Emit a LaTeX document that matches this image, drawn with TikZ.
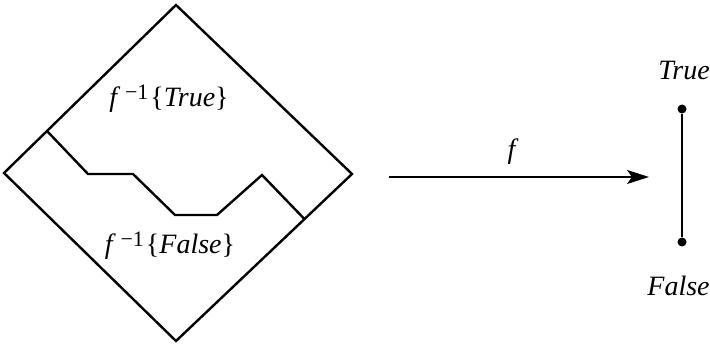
\documentclass[tikz,border=0pt]{standalone}
\usepackage{fontspec}
\newfontfamily\tmsfont{Liberation Serif}
\usetikzlibrary{arrows.meta,calc}
\newcommand{\preim}[1]{\textit{f}\,\raisebox{0.6ex}{\fontsize{11}{12}\selectfont\textup{\char"2212 1}}\kern1pt\{\textit{#1}\}}
\tikzset{
  edge/.style ={line width=1.2pt,line join=miter},
  ar/.style   ={-{Stealth[length=11pt,width=7pt,inset=2.5pt]},line width=0.8pt},
  lbl/.style  ={font=\tmsfont\fontsize{14}{16}\selectfont,inner sep=0pt},
  pt/.style   ={circle,fill,inner sep=0pt,minimum size=4.5pt},
}
\begin{document}
\begin{tikzpicture}[x=0.5pt,y=-0.5pt]
\useasboundingbox (0,0) rectangle (710,346);
% the domain
\coordinate (T) at (176,5);
\coordinate (L) at (4,173);
\coordinate (B) at (176,341);
\coordinate (R) at (352,174);
\draw[edge] (T) -- (R) -- (B) -- (L) -- cycle;
\coordinate (z0) at ($(L)!0.25!(T)$);
\coordinate (z6) at ($(R)!0.27!(B)$);
\draw[edge] (z0) -- (88,174) -- (133,174) -- (175,215) -- (217,215) -- (262,175) -- (z6);
\node[lbl,anchor=base] (pt) at (169,107) {\preim{True}};
\node[lbl,anchor=base] (pf) at (170,254) {\preim{False}};
% the map
\coordinate (a0) at (389,177);
\coordinate (a1) at (649,177);
\draw[ar] (a0) -- node[lbl,above=6pt,xshift=-3pt] (fn) {\textit{f}} (a1);
% the range
\node[pt] (vt) at (682,109) {};
\node[pt] (vf) at (682,242) {};
\draw[line width=0.8pt] (vt) -- (vf);
\node[lbl,anchor=base west] (lt) at (658,80) {\textit{True}};
\node[lbl,anchor=base west] (lf) at (647,296) {\textit{False}};
\end{tikzpicture}
\end{document}
